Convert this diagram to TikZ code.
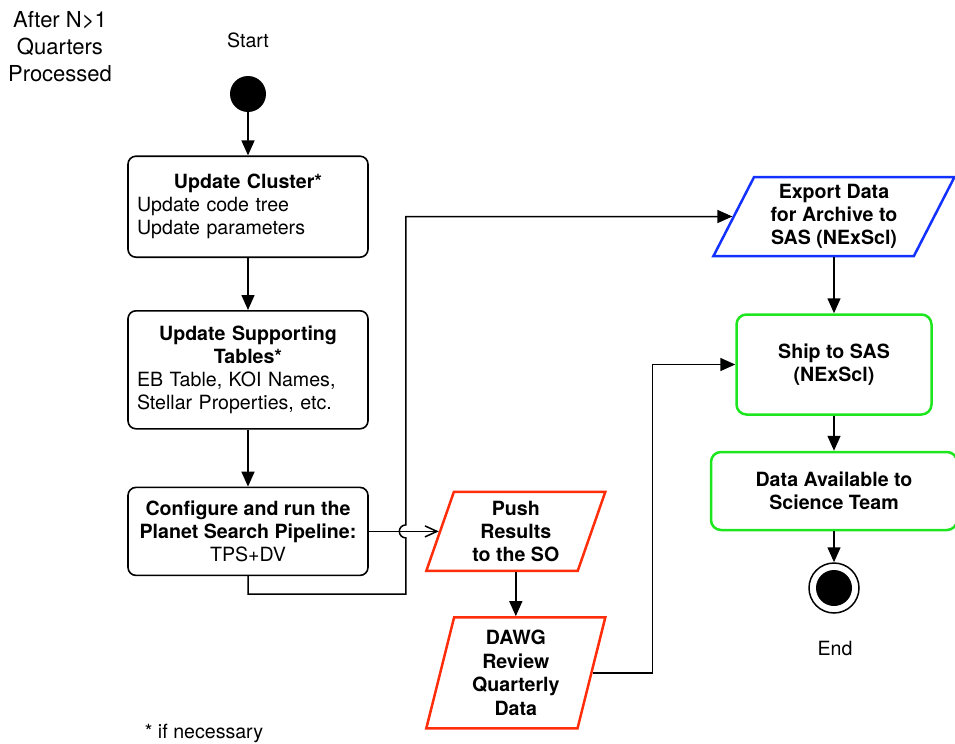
\documentclass[tikz,border=0pt]{standalone}
\usepackage{fontspec}
\setmainfont{TeX Gyre Heros}
\usetikzlibrary{
  shapes.geometric,
  calc,
  positioning,
  arrows.meta
}
\definecolor{iored}{RGB}{255,45,10}
\definecolor{ioblue}{RGB}{20,50,255}
\definecolor{okgreen}{RGB}{30,230,30}

\begin{document}
\begin{tikzpicture}[x=0.5pt,y=-0.5pt,node distance=0.1cm,
	>={Triangle[length=7.5pt,width=6.5pt]},
	every node/.style={font=\fontsize{9.8}{11.5}\selectfont},
	stepbox/.style={rectangle,draw=black,line width=0.8pt,rounded corners=4pt,minimum width=120pt},
	endbox/.style={rectangle,draw=okgreen,line width=1.25pt,rounded corners=5pt,align=center,font=\fontsize{9.8}{11.5}\selectfont\bfseries},
	iobox/.style={trapezium,trapezium stretches body,line width=1.25pt,inner sep=0pt,align=center,font=\fontsize{9.8}{11.5}\selectfont\bfseries},
	line/.style={line width=0.75pt}]
		\useasboundingbox (0,0) rectangle (955,744);
		\node[circle,fill=black,minimum size=18pt,inner sep=0pt] (1) at (248,94) {};
		\node (11) at (248,40) {Start};
		\node[align=center,font=\fontsize{11}{13.5}\selectfont] (13) at (60,47) {After N>1\\Quarters\\Processed};
		\node[stepbox,below = 21.5pt of 1,minimum height=50.5pt,text width=111pt,align=left] (2) {{\centering\bfseries Update Cluster*\par}Update code tree\\Update parameters};
		\node[stepbox,below = 26pt of 2,minimum height=59pt,text width=111pt,align=left] (3) {{\centering\bfseries Update Supporting\\Tables*\par}EB Table, KOI Names,\\Stellar Properties, etc.};
		\node[stepbox,below = 28.5pt of 3,minimum height=44pt,align=center] (4) {\textbf{Configure and run the}\\\textbf{Planet Search Pipeline:}\\TPS+DV};
		\node[iobox,draw=iored,trapezium left angle=65.5,trapezium right angle=114.5,minimum width=89.5pt,minimum height=39.5pt] (5) at ($(4.east)+(147,0)$) {Push\\Results\\to the SO};
		\node[iobox,draw=iored,below = 22pt of 5,trapezium left angle=72,trapezium right angle=108,minimum width=89.5pt,minimum height=55.5pt,font=\fontsize{9.8}{11.8}\selectfont\bfseries] (6) {DAWG\\Review\\Quarterly\\Data};
		\node[iobox,draw=ioblue,trapezium left angle=57.7,trapezium right angle=122.3,minimum width=120.5pt,minimum height=39.5pt] (7) at (834,216.5) {Export Data\\for Archive to\\SAS (NExScl)};
		\node[endbox,below = 28pt of 7,minimum width=97.5pt,minimum height=50pt] (8) {Ship to SAS\\(NExScl)};
		\node[endbox,below = 17.5pt of 8,minimum width=123pt,minimum height=39pt] (9) {Data Available to\\Science Team};
		\node[circle,draw=black,line width=0.75pt,minimum size=25pt,inner sep=0pt,below = 15.5pt of 9,
			path picture={\fill (path picture bounding box.center) circle (9pt);}] (10) {};
		\node (12) at (835,649) {End};
		\node (14) at (204,733) {* if necessary};

		\draw[line,->] (1) -- (2);
		\draw[line,->] (2) -- (3);
		\draw[line,->] (3) -- (4);
		\draw[line,-{Straight Barb[length=6pt,width=5.5pt]}] (4.east) -- (5.left side);
		\draw[line,->] (5.south) -- (6.north);
		\draw[line,->] (4.south) -- ++(0,18) -| ($(4.east)+(37,6.5)$) arc[start angle=-90,end angle=-270,radius=3.25pt] |- (7.left side);
		\draw[line,->] (6.right side) -- ++(60,0) |- (8.west);
		\draw[line,->] (7.south) -- (8.north);
		\draw[line,->] (8) -- (9);
		\draw[line,->] (9) -- (10);
	\end{tikzpicture}
\end{document}
